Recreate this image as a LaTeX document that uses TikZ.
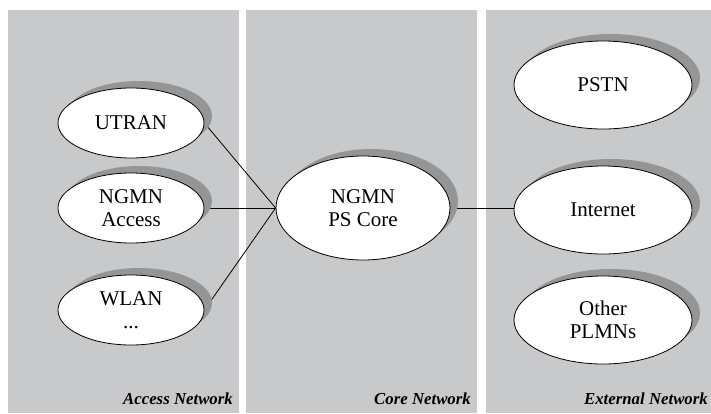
\documentclass[tikz,border=0pt]{standalone}
\usepackage{fontspec}
\setmainfont{Liberation Serif}
\usetikzlibrary{shapes.geometric,shadows}
\definecolor{panelgray}{RGB}{200,201,203}
\definecolor{shadowgray}{RGB}{148,149,151}
\pgfdeclarelayer{bg}
\pgfdeclarelayer{mid}
\pgfsetlayers{bg,mid,main}
\tikzset{
  netnode/.style={ellipse, draw=black, line width=0.8pt, fill=white, inner sep=0pt,
    align=center, font=\fontsize{21}{23}\selectfont,
    drop shadow={shadow xshift=8pt, shadow yshift=7pt, fill=shadowgray, opacity=1}},
  small/.style={netnode, minimum width=146pt, minimum height=70pt},
  big/.style={netnode, minimum width=174pt, minimum height=104pt},
  ext/.style={netnode, minimum width=178pt, minimum height=88pt},
  panel/.style={fill=panelgray, draw=none},
  plabel/.style={anchor=base east, inner sep=0pt, font=\fontsize{16.8}{18}\selectfont\bfseries\itshape},
  link/.style={draw=black, line width=0.8pt}
}
\begin{document}
\begin{tikzpicture}[x=1pt, y=-1pt]
\useasboundingbox (0,0) rectangle (711,413);
\begin{pgfonlayer}{bg}
  \fill[panel] (8,10) rectangle (239,413);
  \fill[panel] (246,10) rectangle (477,413);
  \fill[panel] (486,10) rectangle (711,413);
\end{pgfonlayer}
\node[small] (utran) at (131,123) {UTRAN};
\node[small] (access) at (131,208) {NGMN\\Access};
\node[small] (wlan) at (131,310) {WLAN\\...};
\node[big] (core) at (363,208) {NGMN\\PS Core};
\node[ext] (pstn) at (603,85) {PSTN};
\node[ext] (internet) at (603,210) {Internet};
\node[ext] (plmn) at (603,320) {Other\\PLMNs};
\begin{pgfonlayer}{mid}
  \draw[link] (utran.east) -- (core.west);
  \draw[link] (access.east) -- (core.west);
  \draw[link] (wlan.east) -- (core.west);
  \draw[link] (core.east) -- (internet.west |- core.east);
\end{pgfonlayer}
\node[plabel] (lacc) at (233,404) {Access Network};
\node[plabel] (lcore) at (471,404) {Core Network};
\node[plabel] (lext) at (708,404) {External Network};
\end{tikzpicture}
\end{document}
